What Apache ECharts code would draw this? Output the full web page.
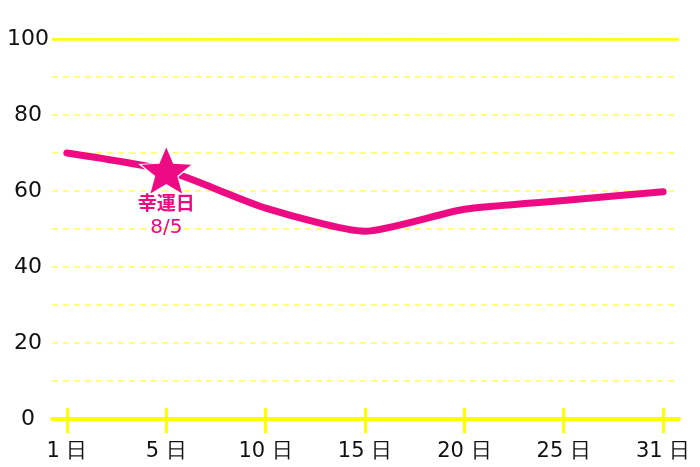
<!DOCTYPE html>
<html>
<head>
<meta charset="utf-8">
<script src="https://cdn.jsdelivr.net/npm/echarts@6/dist/echarts.min.js"></script>
<style>
html,body{margin:0;padding:0;background:#fff;}
#chart{width:700px;height:467px;}
</style>
</head>
<body>
<div id="chart"></div>
<script>
const dayLabels = ['1 日', '5 日', '10 日', '15 日', '20 日', '25 日', '31 日'];
const values = [70, 65.4, 55.5, 49.4, 55.2, 57.5, 59.8];
const yTicks = [0, 20, 40, 60, 80, 100];
const luckyIndex = 1;
const luckyTitle = '幸運日';
const luckyDate = '8/5';
const yMin = 0, yMax = 100;

const xIdx = dayLabels.map((_, i) => i);
const seriesData = values.map((v, i) => [i, v]);
const luckyPoint = [[luckyIndex, values[luckyIndex]]];

const pink = '#ee0a82';
const yellow = '#ffff00';
const starPath = 'path://M50,0 L63.5,33 L99,35 L71.5,57.5 L81,93 L50,74 L19,93 L28.5,57.5 L1,35 L36.5,33 Z';

const chart = echarts.init(document.getElementById('chart'));
const baseX = {
  type: 'value', min: -0.15, max: 6.16, position: 'bottom', offset: 0,
  splitLine: { show: false }
};
chart.setOption({
  animation: false,
  grid: { left: 52, right: 21, top: 39, bottom: 48, containLabel: false },
  xAxis: [
    Object.assign({}, baseX, {
      axisLine: { show: true, onZero: false, lineStyle: { color: yellow, width: 4 } },
      axisTick: { show: true, inside: false, length: 14, customValues: xIdx, lineStyle: { color: yellow, width: 3 } },
      axisLabel: {
        show: true, customValues: xIdx, margin: 22,
        formatter: v => dayLabels[Math.round(v)],
        fontFamily: 'DejaVu Sans', fontSize: 21, color: '#111'
      }
    }),
    Object.assign({}, baseX, {
      axisLine: { show: false, onZero: false },
      axisTick: { show: true, inside: true, length: 11, customValues: xIdx, lineStyle: { color: yellow, width: 3 } },
      axisLabel: { show: false }
    })
  ],
  yAxis: {
    type: 'value', min: yMin, max: yMax, interval: 10,
    axisLine: { show: false }, axisTick: { show: false },
    axisLabel: {
      margin: 24, align: 'center',
      formatter: v => (yTicks.indexOf(v) >= 0 ? String(v) : ''),
      fontFamily: 'DejaVu Sans', fontSize: 22, color: '#111'
    },
    splitLine: { show: true, lineStyle: { color: '#ffff80', width: 2, type: [6, 5] } }
  },
  series: [{
    type: 'line',
    data: seriesData,
    smooth: 0.2,
    symbol: 'none',
    lineStyle: { color: pink, width: 7, cap: 'round', join: 'round' },
    z: 3,
    markLine: {
      silent: true, symbol: 'none', animation: false,
      label: { show: false },
      lineStyle: { color: yellow, width: 2.5, type: 'solid' },
      data: [{ yAxis: yMax }],
      z: 1
    }
  }, {
    type: 'scatter',
    z: 4,
    data: luckyPoint,
    symbol: starPath,
    symbolSize: [56, 52],
    symbolKeepAspect: false,
    itemStyle: { color: '#ffffff', opacity: 1 }
  }, {
    type: 'scatter',
    z: 5,
    data: luckyPoint,
    symbol: starPath,
    symbolSize: [50, 46],
    symbolKeepAspect: false,
    itemStyle: { color: pink, opacity: 1 },
    label: {
      show: true, position: 'inside', offset: [0, 45],
      align: 'center', verticalAlign: 'middle',
      formatter: '{a|' + luckyTitle + '}\n{b|' + luckyDate + '}',
      rich: {
        a: { color: pink, fontSize: 19, lineHeight: 25, fontWeight: 'bold', fontFamily: 'Noto Sans CJK JP' },
        b: { color: pink, fontSize: 20, lineHeight: 25, fontFamily: 'DejaVu Sans' }
      }
    }
  }]
});
</script>
</body>
</html>
